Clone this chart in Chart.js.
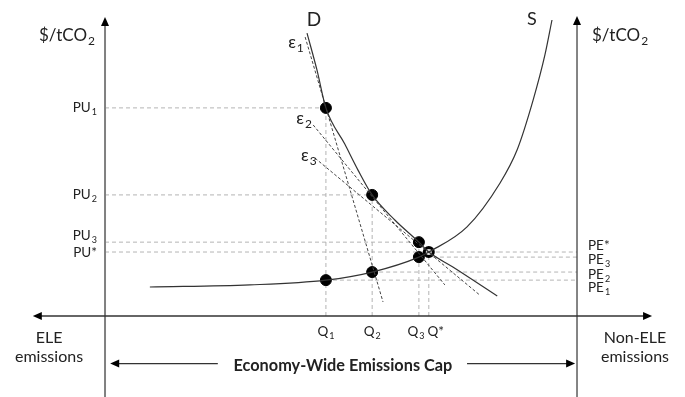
<!DOCTYPE html>
<html>
<head>
<meta charset="utf-8">
<script src="https://cdn.jsdelivr.net/npm/chart.js@4.4.0/dist/chart.umd.min.js"></script>
<style>
  body { margin: 0; background: #fff; }
  canvas { display: block; }
</style>
</head>
<body>
<canvas id="chart" width="685" height="397"></canvas>
<script>
// Quantities where the guide lines meet the horizontal axis
const qLabels = ['Q1', 'Q2', 'Q3', 'Q*'];
const qValues = [46.8, 56.6, 66.5, 68.6];

// Prices read on the demand curve (left axis) and supply curve (right axis)
const puLabels = ['PU1', 'PU2', 'PU3', 'PU*'];
const puValues = [69.6, 40.5, 24.7, 21.4];
const peLabels = ['PE1', 'PE2', 'PE3', 'PE*'];
const peValues = [12.0, 14.7, 19.7, 21.4];

// Demand curve D
const demandX = [42.8, 44.9, 46.8, 50.8, 53.6, 56.6, 61.4, 66.5, 68.6, 73.7, 83.1];
const demandY = [94.6, 82.3, 69.6, 57.5, 48.8, 40.5, 32.1, 24.7, 21.4, 16.4, 6.7];

// Supply curve S
const supplyX = [9.5, 30.7, 46.8, 56.6, 66.5, 68.6, 76.7, 83.7, 87.3, 90.7, 93.2, 94.7];
const supplyY = [9.7, 10.4, 12.0, 14.7, 19.7, 21.4, 29.8, 44.5, 55.5, 72.2, 87.3, 99.0];

// Elasticity lines (start and end)
const epsLabels = ['ε1', 'ε2', 'ε3'];
const epsX = [[42.4, 58.9], [44.1, 72.0], [44.5, 79.4]];
const epsY = [[93.3, 4.7], [63.9, 10.4], [52.8, 7.0]];

// Label placement tweaks (pixels)
const puLabelShift = [0, 0, -7, 1];
const peLabelShift = [7.5, 3, 3, -6];
const qLabelShift = [0, 0, -3, 7];
const epsLabelOffset = [[-17, 5], [-17, -6], [-14, -3]];

const FONT = "Lato, 'Open Sans', 'DejaVu Sans', sans-serif";
const TEXT = '#222';

function pts(xs, ys) {
    return xs.map((x, i) => ({ x: x, y: ys[i] }));
}

// Draw a label such as "PU1" with the trailing digit as a subscript
function subText(ctx, label, x, y, size, align) {
    let base = label, sub = '';
    if (/\d$/.test(label)) {
        base = label.slice(0, -1);
        sub = label.slice(-1);
    }
    ctx.font = size + 'px ' + FONT;
    const wBase = ctx.measureText(base).width;
    ctx.font = Math.round(size * 0.68) + 'px ' + FONT;
    const wSub = sub ? ctx.measureText(sub).width + 1 : 0;
    const total = wBase + wSub;
    let left = x;
    if (align === 'right') left = x - total;
    if (align === 'center') left = x - total / 2;
    ctx.textAlign = 'left';
    ctx.textBaseline = 'middle';
    ctx.fillStyle = TEXT;
    ctx.font = size + 'px ' + FONT;
    ctx.fillText(base, left, y);
    if (sub) {
        ctx.font = Math.round(size * 0.68) + 'px ' + FONT;
        ctx.fillText(sub, left + wBase + 1, y + size * 0.33);
    }
}

function arrowHead(ctx, x, y, dir) {
    // dir: 'up', 'left', 'right'
    ctx.beginPath();
    if (dir === 'up') {
        ctx.moveTo(x, y); ctx.lineTo(x - 4, y + 9); ctx.lineTo(x + 4, y + 9);
    } else if (dir === 'left') {
        ctx.moveTo(x, y); ctx.lineTo(x + 9, y - 4); ctx.lineTo(x + 9, y + 4);
    } else {
        ctx.moveTo(x, y); ctx.lineTo(x - 9, y - 4); ctx.lineTo(x - 9, y + 4);
    }
    ctx.closePath();
    ctx.fillStyle = '#000';
    ctx.fill();
}

function line(ctx, x1, y1, x2, y2) {
    ctx.beginPath();
    ctx.moveTo(x1, y1);
    ctx.lineTo(x2, y2);
    ctx.stroke();
}

// Axes, guide lines and every text label
const diagramPlugin = {
    id: 'diagram',
    beforeDatasetsDraw(chart) {
        const ctx = chart.ctx;
        const xs = chart.scales.x, ys = chart.scales.y;
        const px = v => xs.getPixelForValue(v);
        const py = v => ys.getPixelForValue(v);
        ctx.save();

        // grey dashed guides
        ctx.strokeStyle = '#b4b4b4';
        ctx.lineWidth = 1;
        ctx.setLineDash([4, 3]);
        qValues.forEach((q, i) => {
            line(ctx, px(q), py(0), px(q), py(puValues[i]));
            line(ctx, px(0), py(puValues[i]), px(q), py(puValues[i]));
            line(ctx, px(q), py(peValues[i]), px(100), py(peValues[i]));
        });
        ctx.setLineDash([]);

        // axes
        ctx.strokeStyle = '#808080';
        ctx.lineWidth = 2;
        line(ctx, px(0), py(-30), px(0), py(100) + 6);
        arrowHead(ctx, px(0), py(100), 'up');
        ctx.strokeStyle = '#333';
        ctx.lineWidth = 1.2;
        line(ctx, px(100), py(-30), px(100), py(100.3) + 6);
        arrowHead(ctx, px(100), py(100.3), 'up');
        ctx.lineWidth = 1.5;
        line(ctx, px(-15.3) + 6, py(0), px(115.9) - 6, py(0));
        arrowHead(ctx, px(-15.3), py(0), 'left');
        arrowHead(ctx, px(115.9), py(0), 'right');

        // cap arrows
        ctx.lineWidth = 1.2;
        const capY = py(-15.9);
        line(ctx, px(1.1) + 6, capY, px(23.9), capY);
        arrowHead(ctx, px(1.1), capY, 'left');
        line(ctx, px(76.7), capY, px(99.6) - 6, capY);
        arrowHead(ctx, px(99.6), capY, 'right');
        ctx.restore();
    },
    afterDraw(chart) {
        const ctx = chart.ctx;
        const xs = chart.scales.x, ys = chart.scales.y;
        const px = v => xs.getPixelForValue(v);
        const py = v => ys.getPixelForValue(v);
        ctx.save();

        // axis titles
        subText(ctx, '$/tCO2', px(0) - 10, py(100) + 19, 17, 'right');
        subText(ctx, '$/tCO2', px(100) + 15, py(100) + 19, 17, 'left');

        // price labels
        puLabels.forEach((lab, i) => subText(ctx, lab, px(0) - 8, py(puValues[i]) + puLabelShift[i], 13.5, 'right'));
        peLabels.forEach((lab, i) => subText(ctx, lab, px(100) + 11, py(peValues[i]) + peLabelShift[i], 13.5, 'left'));

        // quantity labels
        qLabels.forEach((lab, i) => subText(ctx, lab, px(qValues[i]) + qLabelShift[i], py(0) + 16, 13.5, 'center'));

        // curve names
        ctx.fillStyle = TEXT;
        ctx.textAlign = 'center';
        ctx.textBaseline = 'middle';
        ctx.font = '19px ' + FONT;
        ctx.fillText('D', px(demandX[0]) + 7, py(demandY[0]) - 13);
        ctx.font = '18px ' + FONT;
        ctx.fillText('S', px(supplyX[supplyX.length - 1]) - 20, py(supplyY[supplyY.length - 1]) - 1);

        // elasticity labels
        epsLabels.forEach((lab, i) => {
            subText(ctx, lab, px(epsX[i][0]) + epsLabelOffset[i][0], py(epsY[i][0]) + epsLabelOffset[i][1], 17, 'left');
        });

        // side captions
        ctx.fillStyle = TEXT;
        ctx.textAlign = 'center';
        ctx.font = '16px ' + FONT;
        ctx.fillText('ELE', px(0) - 56, py(0) + 22);
        ctx.fillText('emissions', px(0) - 56, py(0) + 41);
        ctx.fillText('Non-ELE', px(100) + 58, py(0) + 22);
        ctx.fillText('emissions', px(100) + 58, py(0) + 41);

        ctx.font = 'bold 16.3px ' + FONT;
        ctx.fillText('Economy-Wide Emissions Cap', px(50.4), py(-16.7));
        ctx.restore();
    }
};

new Chart(document.getElementById('chart'), {
    type: 'scatter',
    data: {
        datasets: [
            {
                data: pts(demandX, demandY),
                showLine: true,
                cubicInterpolationMode: 'monotone',
                borderColor: '#333',
                borderWidth: 1.2,
                pointRadius: 0
            },
            {
                data: pts(supplyX, supplyY),
                showLine: true,
                cubicInterpolationMode: 'monotone',
                borderColor: '#333',
                borderWidth: 1.2,
                pointRadius: 0
            },
            ...epsX.map((ex, i) => ({
                data: pts(ex, epsY[i]),
                showLine: true,
                borderColor: '#444',
                borderWidth: 1,
                borderDash: [3, 2],
                pointRadius: 0
            })),
            {
                data: pts(qValues.slice(0, 3), puValues.slice(0, 3)).concat(pts(qValues.slice(0, 3), peValues.slice(0, 3))),
                backgroundColor: '#000',
                borderColor: '#000',
                pointRadius: 5.5
            },
            {
                data: [{ x: qValues[3], y: peValues[3] }],
                backgroundColor: '#ddd',
                borderColor: '#000',
                borderWidth: 3,
                pointRadius: 4.5
            }
        ]
    },
    options: {
        responsive: false,
        animation: false,
        events: [],
        layout: { padding: 0, autoPadding: false },
        plugins: { legend: { display: false }, tooltip: { enabled: false } },
        scales: {
            x: { type: 'linear', display: false, min: -22.25, max: 122.88 },
            y: { type: 'linear', display: false, min: -27.09, max: 105.69 }
        }
    },
    plugins: [diagramPlugin]
});
</script>
</body>
</html>
